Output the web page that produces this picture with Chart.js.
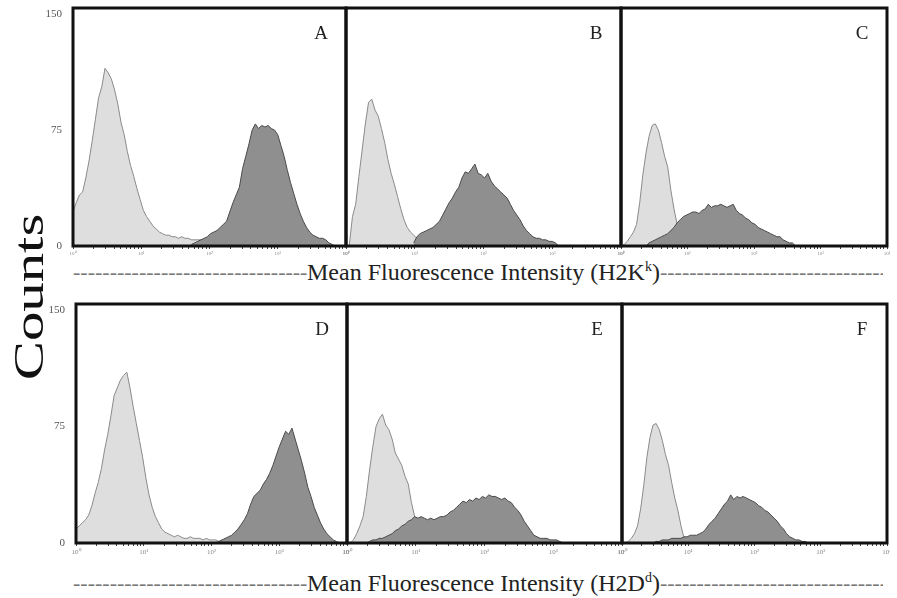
<!DOCTYPE html>
<html>
<head>
<meta charset="utf-8">
<script src="https://cdn.jsdelivr.net/npm/chart.js@4.4.1/dist/chart.umd.min.js"></script>
<style>
  body {
    margin: 0;
    width: 897px;
    height: 598px;
    position: relative;
    overflow: hidden;
    background: #fff;
    font-family: 'Liberation Serif', 'Times New Roman', serif;
  }
  canvas { position: absolute; }
  .counts {
    position: absolute;
    left: 29px;
    top: 297px;
    font-size: 42px;
    color: #111;
    white-space: nowrap;
    transform: translate(-50%, -50%) rotate(-90deg) scale(1.4, 1);
  }
  .xtitle {
    position: absolute;
    left: 73px;
    width: 810px;
    display: flex;
    align-items: center;
    font-size: 24px;
    line-height: 28px;
    white-space: nowrap;
    color: #222;
  }
  .xtitle .dash { overflow: hidden; color: #777; font-size: 22px; }
  .xtitle .dash.left { width: 234px; flex: none; }
  .xtitle .dash.right { flex: 1; }
  .xtitle sup { font-size: 14px; vertical-align: 9px; line-height: 0; }
</style>
</head>
<body>
<div class="counts">Counts</div>
<div class="xtitle" style="top:258px"><span class="dash left"></span><span>Mean Fluorescence Intensity (H2K<sup>k</sup>)</span><span class="dash right"></span></div>
<div class="xtitle" style="top:569px"><span class="dash left"></span><span>Mean Fluorescence Intensity (H2D<sup>d</sup>)</span><span class="dash right"></span></div>

<script>
// channels 0..256 cover four log decades (10^0 .. 10^4), 64 channels per decade
const CH_STEP = 3;
const yTicks = [0, 75, 150];
const decadeLabels = ['10⁰', '10¹', '10²', '10³', '10⁴'];

// counts, one value every CH_STEP channels from *Start
const lightAStart = 0;
const lightA = [22, 28, 33, 35, 44, 55, 68, 82, 96, 103, 115, 112, 108, 101, 92, 80, 72, 61, 52, 45, 37, 30, 23, 19, 16, 13, 11, 9, 8, 7, 7, 6, 6, 5, 6, 5, 5, 4, 4, 4, 4, 3, 3, 3, 3, 2, 3, 2, 2, 1, 2, 1, 1, 0];
const darkAStart = 111;
const darkA = [1, 2, 3, 4, 5, 6, 8, 9, 10, 12, 14, 16, 22, 28, 33, 38, 50, 58, 66, 75, 79, 76, 78, 77, 78, 76, 75, 72, 65, 58, 49, 41, 34, 27, 21, 16, 12, 9, 7, 6, 5, 5, 4, 2, 1, 0];

const lightBStart = 3;
const lightB = [0, 19, 27, 45, 62, 79, 93, 95, 88, 84, 76, 67, 56, 47, 40, 32, 24, 17, 12, 9, 7, 5, 5, 4, 3, 2, 1, 0];
const darkBStart = 63;
const darkB = [2, 6, 8, 9, 10, 11, 12, 14, 16, 20, 24, 28, 31, 35, 38, 44, 48, 47, 50, 53, 47, 46, 44, 47, 42, 39, 37, 35, 33, 31, 27, 23, 20, 17, 13, 10, 8, 6, 5, 5, 4, 4, 3, 3, 2, 0];

const lightCStart = 0;
const lightC = [0, 1, 3, 6, 9, 14, 28, 46, 60, 71, 78, 79, 75, 67, 58, 51, 36, 24, 14, 6, 2, 0];
const darkCStart = 24;
const darkC = [0, 2, 3, 4, 5, 6, 7, 8, 10, 12, 15, 17, 19, 20, 21, 22, 22, 21, 23, 24, 27, 25, 26, 26, 27, 26, 25, 26, 27, 23, 21, 20, 18, 17, 15, 14, 12, 11, 10, 9, 8, 7, 6, 6, 4, 3, 2, 2, 0];

const lightDStart = 0;
const lightD = [9, 11, 13, 15, 18, 24, 32, 39, 48, 60, 70, 82, 95, 100, 105, 108, 110, 100, 88, 77, 66, 55, 42, 31, 23, 17, 13, 9, 7, 6, 5, 4, 5, 4, 3, 3, 4, 3, 3, 3, 2, 3, 2, 2, 2, 1, 2, 1, 1, 0];
const darkDStart = 132;
const darkD = [0, 1, 2, 3, 4, 5, 7, 9, 12, 15, 19, 25, 30, 32, 34, 38, 41, 45, 50, 56, 62, 67, 72, 70, 74, 67, 60, 53, 45, 36, 30, 23, 18, 13, 9, 6, 4, 2, 1, 0];

const lightEStart = 3;
const lightE = [0, 2, 6, 11, 17, 30, 47, 62, 75, 80, 83, 76, 73, 67, 58, 54, 50, 43, 38, 26, 17, 9, 4, 1, 0];
const darkEStart = 18;
const darkE = [0, 1, 2, 2, 3, 3, 4, 5, 6, 8, 9, 11, 12, 14, 15, 17, 16, 17, 16, 15, 16, 15, 16, 17, 17, 18, 20, 21, 23, 25, 27, 26, 28, 27, 29, 28, 30, 29, 31, 30, 30, 29, 28, 29, 27, 26, 23, 21, 18, 14, 11, 8, 5, 4, 3, 3, 3, 2, 2, 2, 1, 0];

const lightFStart = 3;
const lightF = [0, 1, 3, 6, 11, 22, 37, 55, 68, 76, 77, 73, 66, 57, 50, 39, 29, 21, 11, 3, 0];
const darkFStart = 30;
const darkF = [0, 1, 1, 2, 2, 2, 3, 3, 3, 3, 4, 4, 5, 5, 5, 6, 7, 9, 12, 14, 16, 19, 22, 25, 27, 31, 28, 30, 29, 30, 29, 28, 27, 26, 24, 23, 21, 20, 18, 16, 14, 11, 9, 6, 4, 3, 2, 2, 1, 1, 0];

// page layout of the plot boxes
const rowTop = [8, 304];
const rowBottom = [246, 543];
const colEdges = [[73, 346, 621, 887], [76, 347, 622, 887]];
const Y_MAX = 154;

const panels = [
    { letter: 'A', row: 0, col: 0, light: lightA, lightStart: lightAStart, dark: darkA, darkStart: darkAStart },
    { letter: 'B', row: 0, col: 1, light: lightB, lightStart: lightBStart, dark: darkB, darkStart: darkBStart },
    { letter: 'C', row: 0, col: 2, light: lightC, lightStart: lightCStart, dark: darkC, darkStart: darkCStart },
    { letter: 'D', row: 1, col: 0, light: lightD, lightStart: lightDStart, dark: darkD, darkStart: darkDStart },
    { letter: 'E', row: 1, col: 1, light: lightE, lightStart: lightEStart, dark: darkE, darkStart: darkEStart },
    { letter: 'F', row: 1, col: 2, light: lightF, lightStart: lightFStart, dark: darkF, darkStart: darkFStart }
];

// log tick positions in channel units: 1..9 x 10^d
const xTickPos = [];
for (let d = 0; d < 4; d++) {
    for (let m = 1; m <= 9; m++) xTickPos.push(64 * (d + Math.log10(m)));
}
xTickPos.push(256);

const toPoints = (start, counts) => counts.map((c, i) => ({ x: start + i * CH_STEP, y: c }));

const framePlugin = {
    id: 'frame',
    afterDraw(chart, args, opts) {
        const { ctx, chartArea: a } = chart;
        ctx.save();
        ctx.strokeStyle = '#111';
        ctx.lineWidth = 3;
        ctx.strokeRect(a.left, a.top, a.right - a.left, a.bottom - a.top);
        ctx.fillStyle = '#222';
        ctx.font = '19px "Liberation Serif", serif';
        ctx.textAlign = 'center';
        ctx.textBaseline = 'middle';
        ctx.fillText(opts.letter, a.right - 25, a.top + 26);
        ctx.restore();
    }
};

const PAD = 3;
const Y_AXIS_W = 40;
const X_AXIS_H = 20;

function buildPanel(p) {
    const top = rowTop[p.row];
    const bottom = rowBottom[p.row];
    const left = colEdges[p.row][p.col];
    const right = colEdges[p.row][p.col + 1];
    const first = p.col === 0;
    const padL = first ? Y_AXIS_W : PAD;

    const canvas = document.createElement('canvas');
    canvas.width = right - left + padL + PAD;
    canvas.height = bottom - top + PAD + X_AXIS_H;
    canvas.style.left = (left - padL) + 'px';
    canvas.style.top = (top - PAD) + 'px';
    document.body.appendChild(canvas);

    const yAxis = {
        display: first,
        min: 0,
        max: Y_MAX,
        afterBuildTicks: s => { s.ticks = yTicks.map(v => ({ value: v })); },
        border: { display: false },
        grid: { display: false, drawTicks: false },
        ticks: {
            padding: 11,
            color: '#555',
            font: { family: 'Liberation Serif', size: 11 }
        }
    };
    if (first) {
        yAxis.afterFit = s => {
            s.width = Y_AXIS_W;
            s.paddingTop = 0;
            s.paddingBottom = 0;
        };
    }

    new Chart(canvas.getContext('2d'), {
        type: 'line',
        data: {
            datasets: [
                {
                    data: toPoints(p.darkStart, p.dark),
                    borderColor: '#4a4a4a',
                    backgroundColor: '#8f8f8f',
                    borderWidth: 1,
                    fill: 'origin',
                    pointRadius: 0,
                    tension: 0,
                    order: 0
                },
                {
                    data: toPoints(p.lightStart, p.light),
                    borderColor: '#8a8a8a',
                    backgroundColor: '#dedede',
                    borderWidth: 1,
                    fill: 'origin',
                    pointRadius: 0,
                    tension: 0,
                    order: 1
                }
            ]
        },
        options: {
            responsive: false,
            animation: false,
            layout: { padding: { left: first ? 0 : PAD, top: PAD, right: PAD, bottom: 0 } },
            plugins: {
                legend: { display: false },
                tooltip: { enabled: false },
                frame: { letter: p.letter }
            },
            scales: {
                x: {
                    type: 'linear',
                    min: 0,
                    max: 256,
                    afterBuildTicks: s => { s.ticks = xTickPos.map(v => ({ value: v })); },
                    afterFit: s => {
                        s.height = X_AXIS_H;
                        s.paddingLeft = 0;
                        s.paddingRight = 0;
                    },
                    border: { display: false },
                    grid: { display: true, drawOnChartArea: false, drawTicks: true, tickLength: 3, color: '#444' },
                    ticks: {
                        autoSkip: false,
                        maxRotation: 0,
                        padding: 2,
                        color: '#888',
                        font: { family: 'Liberation Serif', size: p.row === 0 ? 5 : 7 },
                        callback: v => {
                            const d = v / 64;
                            return Math.abs(d - Math.round(d)) < 1e-6 ? decadeLabels[Math.round(d)] : '';
                        }
                    }
                },
                y: yAxis
            }
        },
        plugins: [framePlugin]
    });
}

document.querySelectorAll('.xtitle .dash').forEach(el => { el.textContent = '-'.repeat(60); });
panels.forEach(buildPanel);
</script>
</body>
</html>
